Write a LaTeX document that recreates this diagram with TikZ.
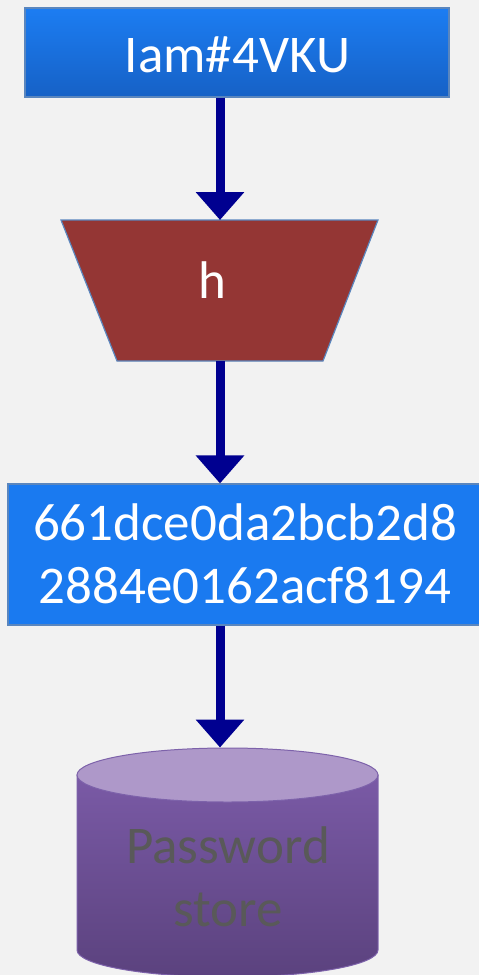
\documentclass[tikz,border=0pt]{standalone}
\usepackage{fontspec}
\setmainfont{Carlito}
\usetikzlibrary{arrows.meta}
\definecolor{bg}{HTML}{F2F2F2}
\definecolor{boxtop}{HTML}{1C7DF2}
\definecolor{boxbot}{HTML}{1661C6}
\definecolor{boxline}{HTML}{5A86BE}
\definecolor{hashfill}{HTML}{1A7AF0}
\definecolor{hfill}{HTML}{943634}
\definecolor{flow}{HTML}{000090}
\definecolor{cyltop}{HTML}{AE98C9}
\definecolor{cylhi}{HTML}{7A5AA6}
\definecolor{cyllo}{HTML}{5B427E}
\definecolor{cylline}{HTML}{7D62AA}
\definecolor{storetext}{HTML}{595959}
\tikzset{
  bigtext/.style={font=\fontsize{53}{63}\selectfont},
  flowarrow/.style={draw=flow, line width=9pt,
    -{Triangle[width=47pt,length=28pt]}},
}
\begin{document}
\begin{tikzpicture}[x=1pt,y=-1pt]
  \useasboundingbox (0,0) rectangle (479,975);
  \clip (0,0) rectangle (479,975);
  \fill[bg] (0,0) rectangle (479,975);

  % plain password
  \node[draw=boxline, line width=1.2pt, top color=boxtop, bottom color=boxbot,
        minimum width=424pt, minimum height=89pt, inner sep=0pt] (pw) at (237,52.5) {};
  \node[text=white, bigtext, inner sep=0pt] (pwtext) at (237.5,55) {Iam\#4VKU};

  % hash function
  \path[fill=hfill, draw=boxline, line width=1.2pt]
    (61,220) -- (378,220) -- (323,361) -- (117,361) -- cycle;
  \coordinate (htop) at (220,220);
  \coordinate (hbot) at (220,361);
  \node[text=white, bigtext, inner sep=0pt] (h) at (212,280) {h};

  % digest
  \node[draw=boxline, line width=1.2pt, fill=hashfill,
        minimum width=475pt, minimum height=141pt, inner sep=0pt] (digest) at (245.5,554.5) {};
  \node[text=white, bigtext, align=center, inner sep=0pt] (digtext) at (245,554)
    {661dce0da2bcb2d8\\2884e0162acf8194};

  % password store
  \path[top color=cylhi, bottom color=cyllo, draw=cylline, line width=1pt]
    (77,775) -- (77,950) arc[start angle=180, end angle=360, x radius=150.5pt, y radius=27pt]
    -- (378,775) -- cycle;
  \path[fill=cyltop, draw=cylline, line width=1pt]
    (227.5,775) ellipse [x radius=150.5pt, y radius=27pt];
  \coordinate (storetop) at (220,747.5);
  \node[text=storetext, bigtext, align=center, inner sep=0pt] (store) at (228,877)
    {Password\\store};

  % flow arrows
  \draw[flowarrow] (pw.south -| htop) -- (htop);
  \draw[flowarrow] (hbot) -- (digest.north -| hbot);
  \draw[flowarrow] (digest.south -| storetop) -- (storetop);
\end{tikzpicture}
\end{document}
